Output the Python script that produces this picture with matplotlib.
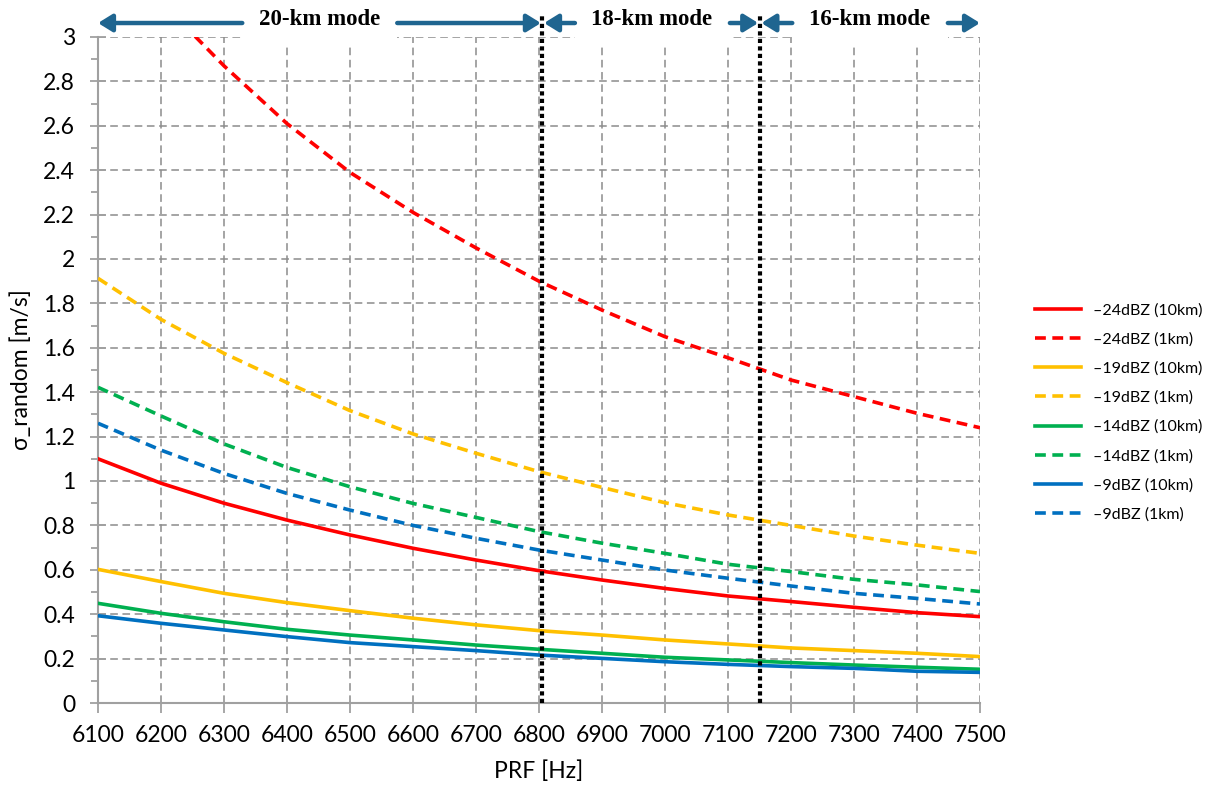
import matplotlib
matplotlib.use("Agg")
import matplotlib.pyplot as plt
from matplotlib.patches import FancyArrowPatch, Rectangle
from matplotlib.ticker import MultipleLocator, FuncFormatter
import matplotlib.transforms as mtransforms

plt.rcParams["font.family"] = ["Lato", "DejaVu Sans"]

# PRF samples [Hz]
prf = [6100, 6200, 6300, 6400, 6500, 6600, 6700, 6800,
       6900, 7000, 7100, 7200, 7300, 7400, 7500]

# sigma_random [m/s]
red_10km = [1.10, 0.99, 0.90, 0.824, 0.757, 0.697, 0.644, 0.596,
            0.554, 0.516, 0.482, 0.457, 0.431, 0.407, 0.389]
red_1km = [3.48, 3.16, 2.87, 2.61, 2.39, 2.21, 2.05, 1.90,
           1.77, 1.65, 1.555, 1.455, 1.38, 1.305, 1.24]
orange_10km = [0.602, 0.547, 0.494, 0.452, 0.416, 0.382, 0.352, 0.326,
               0.306, 0.284, 0.266, 0.248, 0.236, 0.224, 0.209]
orange_1km = [1.913, 1.728, 1.575, 1.443, 1.317, 1.212, 1.125, 1.042,
              0.971, 0.902, 0.847, 0.80, 0.752, 0.711, 0.674]
green_10km = [0.449, 0.404, 0.366, 0.332, 0.306, 0.284, 0.261, 0.242,
              0.224, 0.206, 0.194, 0.182, 0.171, 0.161, 0.152]
green_1km = [1.422, 1.293, 1.167, 1.061, 0.974, 0.899, 0.836, 0.772,
             0.72, 0.674, 0.625, 0.592, 0.557, 0.532, 0.502]
blue_10km = [0.393, 0.359, 0.329, 0.299, 0.272, 0.254, 0.236, 0.216,
             0.201, 0.186, 0.174, 0.164, 0.156, 0.143, 0.138]
blue_1km = [1.26, 1.139, 1.034, 0.944, 0.869, 0.80, 0.742, 0.689,
            0.644, 0.599, 0.562, 0.527, 0.494, 0.471, 0.446]

series = [
    ("\u201324dBZ (10km)", red_10km, "#ff0000", "-"),
    ("\u201324dBZ (1km)", red_1km, "#ff0000", "--"),
    ("\u201319dBZ (10km)", orange_10km, "#ffc000", "-"),
    ("\u201319dBZ (1km)", orange_1km, "#ffc000", "--"),
    ("\u201314dBZ (10km)", green_10km, "#00b050", "-"),
    ("\u201314dBZ (1km)", green_1km, "#00b050", "--"),
    ("\u20139dBZ (10km)", blue_10km, "#0070c0", "-"),
    ("\u20139dBZ (1km)", blue_1km, "#0070c0", "--"),
]

# mode boundaries [Hz]
mode_bounds = [6805, 7150]

fig = plt.figure(figsize=(12.07, 7.9), dpi=100)
ax = fig.add_axes([98 / 1207, 1 - 703 / 790, (980 - 98) / 1207, (703 - 37) / 790])

for label, vals, col, ls in series:
    if ls == "--":
        ax.plot(prf, vals, color=col, lw=2.6, linestyle=(0, (3, 1.8)), label=label, zorder=3)
    else:
        ax.plot(prf, vals, color=col, lw=2.6, label=label, zorder=3)

ax.set_xlim(6100, 7500)
ax.set_ylim(0, 3)
ax.xaxis.set_major_locator(MultipleLocator(100))
ax.yaxis.set_major_locator(MultipleLocator(0.2))
ax.yaxis.set_minor_locator(MultipleLocator(0.1))
ax.yaxis.set_major_formatter(FuncFormatter(lambda v, p: f"{v:.1f}".rstrip("0").rstrip(".")))

ax.set_axisbelow(True)
ax.grid(True, which="major", color="#8c8c8c", lw=1.1, linestyle=(0, (5, 3)))

for s in ["top", "right"]:
    ax.spines[s].set_visible(False)
for s in ["left", "bottom"]:
    ax.spines[s].set_color("#a0a0a0")
    ax.spines[s].set_linewidth(1.5)

ax.tick_params(axis="x", which="major", direction="out", length=7, width=1.3,
               color="#a0a0a0", labelsize=16.5, pad=9)
ax.tick_params(axis="y", which="major", direction="inout", length=11, width=1.3,
               color="#a0a0a0", labelsize=16.5, pad=11)
ax.tick_params(axis="y", which="minor", direction="out", length=5, width=1.3,
               color="#a0a0a0")

ax.set_xlabel("PRF [Hz]", fontsize=16.5, labelpad=10)
ax.set_ylabel("\u03c3_random [m/s]", fontsize=16.5, labelpad=8)

trans = mtransforms.blended_transform_factory(ax.transData, ax.transAxes)

# mode boundary dotted lines
for xb in mode_bounds:
    ax.plot([xb, xb], [0, 1.035], color="black", lw=3, linestyle=(0, (1, 0.8)),
            transform=trans, clip_on=False, zorder=4)

arrow_y = 1.021
arrow_color = "#1f6590"

modes = [
    ("20-km mode", 6452, 6329, 6100, 6575, 6803),
    ("18-km mode", 6979, 6857, 6808, 7103, 7148),
    ("16-km mode", 7325, 7202, 7153, 7449, 7500),
]
for text, xc, lt, lh, rt, rh in modes:
    ax.add_patch(Rectangle((lt, 0.99), rt - lt, 0.07, transform=trans,
                           facecolor="white", edgecolor="none", clip_on=False, zorder=2))
    for a, b in [(lt, lh), (rt, rh)]:
        arr = FancyArrowPatch((a, arrow_y), (b, arrow_y), transform=trans,
                              arrowstyle="-|>,head_length=0.42,head_width=0.26",
                              mutation_scale=20, lw=3.2, color=arrow_color,
                              shrinkA=0, shrinkB=0, clip_on=False, zorder=5)
        ax.add_patch(arr)
    ax.text(xc, 1.027, text, transform=trans, ha="center", va="center",
            fontsize=16.5, fontweight="bold", family="Liberation Serif", zorder=6)

fig.legend(loc="center left", bbox_to_anchor=(0.851, 0.478), frameon=False,
           fontsize=11.5, handlelength=2.9, handletextpad=0.75, labelspacing=0.93,
           borderpad=0)

fig.savefig("out.png", dpi=100, facecolor="white")
